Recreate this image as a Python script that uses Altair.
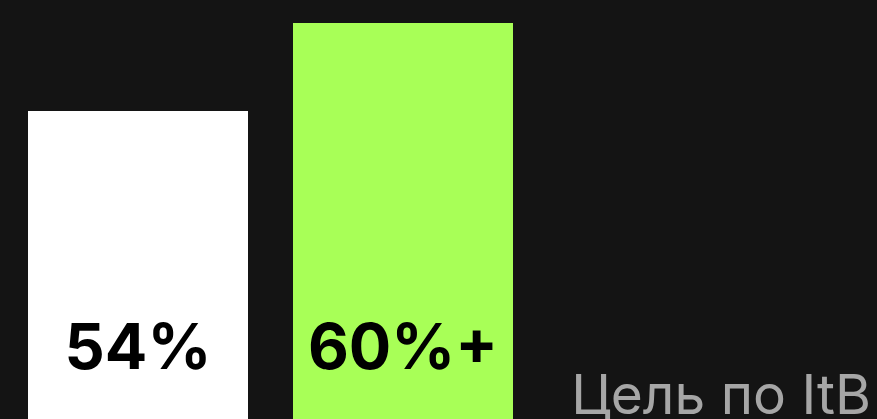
import altair as alt
import pandas as pd

categories = ["Факт", "Цель по ItB"]
values = [54, 60]
labels = ["54%", "60%+"]
colors = ["#ffffff", "#a8ff57"]
caption = "Цель по ItB"

df = pd.DataFrame({"cat": categories, "value": values, "label": labels, "color": colors})

W, H = 877, 419

x = alt.X("cat:N", sort=categories, axis=None,
          scale=alt.Scale(range=[28, 513], paddingInner=45 / 265, paddingOuter=0))
y = alt.Y("value:Q", axis=None, scale=alt.Scale(domain=[33, 61.57], zero=False, nice=False))

bars = alt.Chart(df).mark_bar(clip=True).encode(
    x=x, y=y, color=alt.Color("color:N", scale=None)
)

text = alt.Chart(df).mark_text(
    font="Inter", fontWeight="bold", fontSize=63, color="#000000",
    baseline="alphabetic", align="center"
).encode(x=x, y=alt.value(369), text="label:N")

cap = alt.Chart(pd.DataFrame({"t": [caption]})).mark_text(
    font="Inter", fontSize=55, color="#a6a6a6", align="right", baseline="alphabetic"
).encode(x=alt.value(871), y=alt.value(414), text="t:N")

chart = alt.layer(bars, text, cap).properties(
    width=W, height=H, background="#141414", padding=0,
    autosize=alt.AutoSizeParams(type="none")
).configure_view(stroke=None, fill="#141414")

chart.save("out.html", embed_options={"renderer": "svg", "actions": False})
